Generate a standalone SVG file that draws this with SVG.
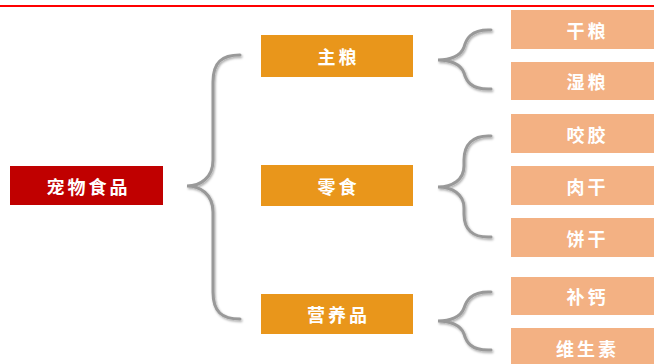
<svg xmlns="http://www.w3.org/2000/svg" width="654" height="364" viewBox="0 0 654 364">
<defs>
<filter id="sh" x="-30%" y="-10%" width="160%" height="120%">
<feDropShadow dx="1" dy="1.5" stdDeviation="1.2" flood-color="#000" flood-opacity="0.35"/>
</filter>
<style>
.t{font-family:"Noto Sans CJK SC","Noto Sans CJK TC",sans-serif;font-size:18px;font-weight:bold;fill:#fff;text-anchor:middle;dominant-baseline:central;letter-spacing:3px}
.root{fill:#C00000}
.mid{fill:#E9961B}
.leaf{fill:#F3B183}
.br{fill:none;stroke:#999;stroke-width:3;stroke-linecap:round;filter:url(#sh)}
</style>
</defs>
<rect width="654" height="364" fill="#fff"/>
<rect x="0" y="5" width="654" height="2" fill="#FF0000"/>
<g id="connectors">
<path class="br" d="M240,55 C222,55 213,62 213,82 L213,160 C213,178 200,186 187,186 C200,186 213,194 213,212 L213,292 C213,312 222,319 240,319"/>
<path class="br" d="M491,30 C470,29 466,40 464,47 C461,56 450,60 438,60 C450,60 461,64 464,73 C466,80 470,90 491,89"/>
<path class="br" d="M491,136 C472,135 464,145 464,160 L464,166 C464,180 452,187 438,187 C452,187 464,194 464,208 L464,214 C464,229 472,238 491,237"/>
<path class="br" d="M491,292 C470,291 466,302 464,308 C461,317 450,321 438,321 C450,321 461,325 464,334 C466,341 470,351 491,350"/>
</g>
<g id="n-root"><rect class="root" x="10" y="166" width="153" height="39"/><text class="t" x="88.5" y="185.5">宠物食品</text></g>
<g id="n-zhuliang"><rect class="mid" x="261" y="35" width="152" height="42"/><text class="t" x="338.5" y="56">主粮</text></g>
<g id="n-lingshi"><rect class="mid" x="261" y="165" width="152" height="41"/><text class="t" x="338.5" y="185.5">零食</text></g>
<g id="n-yingyangpin"><rect class="mid" x="261" y="294" width="152" height="40"/><text class="t" x="338.5" y="314">营养品</text></g>
<g id="n-ganliang"><rect class="leaf" x="511" y="10" width="151" height="39"/><text class="t" x="587.5" y="29.5">干粮</text></g>
<g id="n-shiliang"><rect class="leaf" x="511" y="62" width="151" height="38"/><text class="t" x="587.5" y="81">湿粮</text></g>
<g id="n-yaojiao"><rect class="leaf" x="511" y="114" width="151" height="39"/><text class="t" x="587.5" y="133.5">咬胶</text></g>
<g id="n-rougan"><rect class="leaf" x="511" y="166" width="151" height="39"/><text class="t" x="587.5" y="185.5">肉干</text></g>
<g id="n-binggan"><rect class="leaf" x="511" y="218" width="151" height="39"/><text class="t" x="587.5" y="237.5">饼干</text></g>
<g id="n-bugai"><rect class="leaf" x="511" y="277" width="151" height="38"/><text class="t" x="587.5" y="296">补钙</text></g>
<g id="n-weishengsu"><rect class="leaf" x="511" y="328" width="151" height="40"/><text class="t" x="587.5" y="348">维生素</text></g>
</svg>
